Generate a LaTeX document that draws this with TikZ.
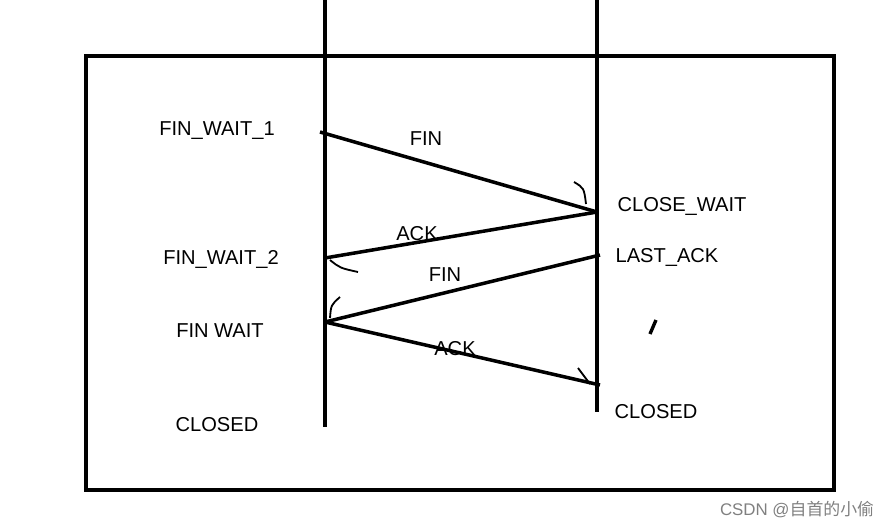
\documentclass[tikz,border=0pt]{standalone}
\usepackage{fontspec}
\setmainfont{Liberation Sans}
\newfontfamily\cjk{Noto Sans CJK SC}
\usetikzlibrary{calc}
\begin{document}
\begin{tikzpicture}[x=0.025cm, y=-0.025cm,
  state/.style={font=\fontsize{14.3}{17}\selectfont, inner sep=0pt},
  msg/.style={font=\fontsize{14.3}{17}\selectfont, inner sep=0pt},
  wire/.style={line width=2.5pt},
  hook/.style={line width=1.3pt}]
\useasboundingbox (0,0) rectangle (882,528);
% frame
\draw[line width=2.8pt] (86,56) rectangle (834,490);
% timelines
\coordinate (lt) at (325,0); \coordinate (lb) at (325,427);
\coordinate (rt) at (597,0); \coordinate (rb) at (597,412);
\draw[wire, line width=2.8pt] (lt) -- (lb);
\draw[wire, line width=2.8pt] (rt) -- (rb);
% message end points
\coordinate (a1) at (320,132); \coordinate (b1) at (597,212);
\coordinate (a2) at (325,258); \coordinate (b2) at (600,255);
\coordinate (a3) at (325,322); \coordinate (b3) at (600,385);
\draw[wire] (a1) -- (b1);
\draw[wire] (b1) -- (a2);
\draw[wire] (b2) -- (a3);
\draw[wire] (a3) -- (b3);
% hand drawn tips
\draw[hook] (574,182) .. controls (584,188) .. (586,204);
\draw[hook] (358,272) .. controls (340,268) .. (330,260);
\draw[hook] (340,297) .. controls (331,305) .. (330,318);
\draw[hook] (578,368) .. controls (584,376) .. (590,384);
\draw[line width=2.4pt] (656,320) -- (650,334);
% labels
\node[msg] (fin1) at (426,139) {FIN};
\node[msg] (ack1) at (417,234) {ACK};
\node[msg] (fin2) at (445,275) {FIN};
\node[msg] (ack2) at (455,349) {ACK};
\node[state] (fw1) at (217,131) {FIN\_WAIT\_1};
\node[state] (fw2) at (221,259) {FIN\_WAIT\_2};
\node[state] (fw) at (220,331) {FIN WAIT};
\node[state] (cl) at (217,425) {CLOSED};
\node[state] (cw) at (682,206) {CLOSE\_WAIT};
\node[state] (la) at (667,257) {LAST\_ACK};
\node[state] (cr) at (656,412) {CLOSED};
\node[font=\fontsize{12}{14}\selectfont, text=gray, inner sep=0pt] (wm) at (797,510) {CSDN @{\cjk 自首的小偷}};
\end{tikzpicture}
\end{document}
